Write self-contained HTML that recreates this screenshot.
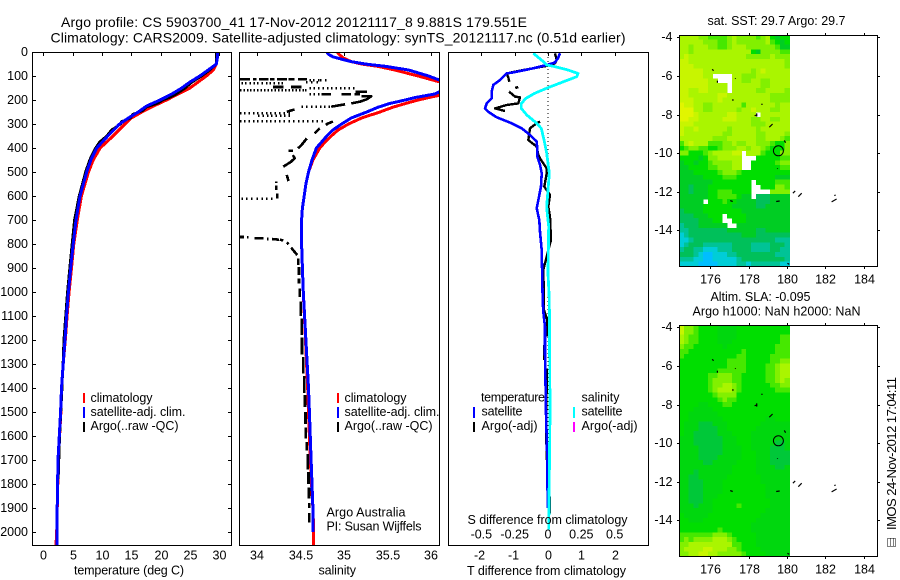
<!DOCTYPE html>
<html>
<head>
<meta charset="utf-8">
<title>Argo profile</title>
<style>
html,body{margin:0;padding:0;background:#fff;}
svg{display:block;font-family:"Liberation Sans",sans-serif;font-size:12px;fill:#000;}
.frame{fill:none;stroke:#000;stroke-width:1;shape-rendering:crispEdges;}
.ln{fill:none;shape-rendering:crispEdges;stroke-linejoin:round;}
</style>
</head>
<body>
<svg id="fig" xmlns="http://www.w3.org/2000/svg" width="900" height="580" viewBox="0 0 900 580">
<defs>
<clipPath id="clip-t"><rect x="32.5" y="52.5" width="199" height="493"/></clipPath>
<clipPath id="clip-s"><rect x="239.5" y="52.5" width="200" height="493"/></clipPath>
<clipPath id="clip-d"><rect x="448.5" y="52.5" width="200" height="493"/></clipPath>
</defs>
<rect x="0" y="0" width="900" height="580" fill="#fff"/>
<text x="61" y="27" font-size="14" textLength="466">Argo profile: CS 5903700_41 17-Nov-2012 20121117_8 9.881S 179.551E</text>
<text x="50.5" y="42.5" font-size="14" textLength="575">Climatology: CARS2009. Satellite-adjusted climatology: synTS_20121117.nc (0.51d earlier)</text>

<g id="maps"></g>
<g id="profiles"></g>

<rect class="frame" x="32.5" y="52.5" width="199" height="493"/>
<rect class="frame" x="239.5" y="52.5" width="200" height="493"/>
<rect class="frame" x="448.5" y="52.5" width="200" height="493"/>
<rect class="frame" x="679.5" y="35.5" width="198" height="231"/>
<rect class="frame" x="679.5" y="325.5" width="198" height="231"/>

<g id="ticks"></g>

<text x="74" y="574.5" font-size="12.5" textLength="110">temperature (deg C)</text>
<text x="318.5" y="574.5" font-size="12.5" textLength="37.5">salinity</text>
<text x="467" y="575" font-size="12.5" textLength="159">T difference from climatology</text>
<text x="467.5" y="524" font-size="12.5" textLength="160">S difference from climatology</text>

<g font-size="12.5">
<rect x="83" y="393" width="2" height="10" fill="#f00"/>
<rect x="83" y="407" width="2" height="11" fill="#00f"/>
<rect x="83" y="422" width="2" height="10" fill="#000"/>
<text x="90.5" y="402" textLength="62">climatology</text>
<text x="90.5" y="416" textLength="95">satellite-adj. clim.</text>
<text x="90.5" y="430" textLength="88">Argo(..raw -QC)</text>
</g>
<g font-size="12.5">
<rect x="337" y="393" width="2" height="10" fill="#f00"/>
<rect x="337" y="407" width="2" height="11" fill="#00f"/>
<rect x="337" y="422" width="2" height="10" fill="#000"/>
<text x="344.5" y="402" textLength="62">climatology</text>
<text x="344.5" y="416" textLength="95">satellite-adj. clim.</text>
<text x="344.5" y="430" textLength="88">Argo(..raw -QC)</text>
<text x="326.5" y="516.5" textLength="79">Argo Australia</text>
<text x="326.5" y="530.5" textLength="95">PI: Susan Wijffels</text>
</g>
<g font-size="12.5">
<text x="481" y="401.5" textLength="64">temperature</text>
<rect x="473" y="407" width="2" height="11" fill="#00f"/>
<text x="481.5" y="415.5" textLength="41">satellite</text>
<rect x="473" y="422" width="2" height="10" fill="#000"/>
<text x="481.5" y="430" textLength="56">Argo(-adj)</text>
<text x="581.5" y="401.5" textLength="38">salinity</text>
<rect x="573" y="407" width="2" height="11" fill="#0ff"/>
<text x="581.5" y="415.5" textLength="41">satellite</text>
<rect x="573" y="422" width="2" height="10" fill="#f0f"/>
<text x="581.5" y="430" textLength="56">Argo(-adj)</text>
</g>

<text x="707.5" y="25" font-size="12.5" textLength="138">sat. SST: 29.7  Argo: 29.7</text>
<text x="710.5" y="301" font-size="12.5" textLength="100">Altim. SLA: -0.095</text>
<text x="692.5" y="315.5" font-size="12.5" textLength="168">Argo h1000: NaN h2000: NaN</text>

<text transform="translate(896,530) rotate(-90)" font-size="13" textLength="153">IMOS 24-Nov-2012 17:04:11</text>
<g fill="none" stroke="#000" stroke-width="1" stroke-dasharray="1 1" shape-rendering="crispEdges">
<rect x="887.5" y="538.5" width="8" height="8"/>
<line x1="890.5" y1="538.5" x2="890.5" y2="546.5"/>
<line x1="893.5" y1="538.5" x2="893.5" y2="546.5"/>
</g>
</svg>

<script>
/* ---------- profile data ---------- */
const climDepth = [0,25,50,75,100,125,150,175,200,225,250,275,300,350,400,450,500,600,700,800,900,1000,1100,1200,1300,1400,1500,1700,2000,2054];
const climTemp  = [29.55,29.55,29.5,29.0,27.8,26.4,25.0,23.0,21.0,18.8,16.8,15.0,13.9,11.9,9.7,8.5,7.7,6.5,5.8,5.2,4.8,4.4,4.05,3.75,3.4,3.1,3.0,2.56,2.28,2.16];
const satTemp   = [29.7,29.65,29.5,28.1,26.7,25.0,23.6,21.9,19.9,17.6,16.2,14.5,13.0,11.0,9.1,8.1,7.4,6.25,5.57,5.1,4.67,4.27,3.95,3.7,3.4,3.1,2.95,2.5,2.3,2.3];

const argoTDepth = [5,50,75,100,125,150,175,190,200,215,230,245,260,275,290,300,325,350,375,400,450,500,600,700,800,900,1000,1200,1400,1600,1780];
const argoTemp   = [29.5,29.5,28.4,27.0,25.4,24.2,22.7,21.5,20.4,19.4,17.5,16.9,15.2,14.9,13.3,13.2,11.6,10.8,9.6,8.9,7.9,7.2,6.1,5.3,4.9,4.5,4.1,3.5,3.2,2.8,2.55];

const climSalDepth = [0,10,25,40,50,60,75,100,115,130,150,180,190,200,215,230,250,275,300,325,350,375,400,450,500,550,600,650,700,800,900,1000,1400,1500,1700,1900,2000,2054];
const climSal      = [34.92,34.94,34.99,35.08,35.2,35.39,35.58,35.85,36.0,36.15,36.3,36.1,35.97,35.85,35.7,35.56,35.41,35.2,35.05,34.93,34.85,34.78,34.72,34.64,34.59,34.56,34.54,34.52,34.51,34.51,34.52,34.53,34.58,34.59,34.61,34.64,34.65,34.65];
const satSalDepth  = [0,10,20,30,40,50,60,75,100,115,125,150,165,175,190,200,215,230,250,275,300,325,350,375,400,450,500,550,600,650,700,800,900,1000,1400,1500,1700,1900,2000];
const satSal       = [34.8,34.82,34.87,34.97,35.08,35.24,35.48,35.74,35.97,36.08,36.15,36.2,36.1,36.04,35.81,35.7,35.52,35.39,35.26,35.08,34.97,34.87,34.8,34.74,34.68,34.63,34.59,34.56,34.54,34.52,34.51,34.51,34.52,34.53,34.59,34.6,34.62,34.64,34.64];

/* connected Argo salinity runs; null = break in the line */
const argoSalDepth = [114,114,null,114,114,null,114,114,null,114,114,null,114,114,null,114,114,null,114,114,null,
 146,146,null,146,146,null,165,165,null,176,176,null,176,176,null,176,176,null,185,185,197,207,214,null,218,224,228,null,239,249,null,
 290,300,306,null,318,339,null,360,387,401,null,412,412,null,429,443,457,478,null,512,538,null,540,545,null,557,575,null,589,610,null,
 771,771,null,772,772,null,776,776,null,779,779,null,779,782,null,782,785,null,793,801,null,815,846,null,860,888,null,895,929,null,943,964,null,
 985,1020,null,1040,1100,null,1110,1180,null,1190,1260,null,1270,1340,null,1350,1420,null,1430,1480,null,1500,1550,null,1565,1610,null,1625,1660,null,1675,1740,null,1750,1800,null,1815,1860,null,1880,1900,null,1920,1960];
const argoSalValue = [33.8,33.92,null,33.95,33.99,null,34.02,34.13,null,34.15,34.2,null,34.23,34.34,null,34.36,34.43,null,34.47,34.57,null,
 34.18,34.3,null,34.39,34.51,null,35.13,35.26,null,34.74,34.85,null,34.97,35.08,null,35.12,35.18,null,35.2,35.31,35.26,35.18,35.08,null,35.01,34.91,34.85,null,34.43,34.34,null,
 34.87,34.8,34.81,null,34.72,34.66,null,34.57,34.51,34.47,null,34.36,34.41,null,34.41,34.43,34.39,34.3,null,34.34,34.36,null,34.22,34.22,null,34.22,34.22,null,34.23,34.23,null,
 33.8,33.85,null,33.885,33.9,null,33.97,34.07,null,34.11,34.13,null,34.17,34.25,null,34.26,34.3,null,34.34,34.36,null,34.39,34.46,null,34.47,34.47,null,34.48,34.48,null,34.48,34.48,null,
 34.49,34.49,null,34.5,34.5,null,34.51,34.51,null,34.515,34.515,null,34.53,34.53,null,34.54,34.54,null,34.55,34.55,null,34.555,34.555,null,34.56,34.56,null,34.57,34.57,null,34.58,34.58,null,34.59,34.59,null,34.595,34.595,null,34.6,34.6,null,34.6,34.6];

/* isolated Argo salinity samples grouped by depth */
const argoDotDepth = [117,130,126,149,158,175,228,255,265,287,288,610];
const argoDotSal = [
 [34.6,34.64,34.7,34.72,34.78],
 [33.82,33.86,33.91,33.96,34.0,34.05,34.1,34.14,34.19,34.24,34.28],
 [34.56,34.62,34.68],
 [34.6,34.65,34.7,34.75,34.8,34.85,34.9,34.95,35.0,35.05,35.1],
 [33.8,33.84,33.88,33.92,33.96,34.0,34.04,34.08,34.12,34.16,34.2,34.24,34.28,34.32,34.36,34.4,34.44,34.48,34.52,34.55],
 [34.6,34.65,34.7],
 [34.51,34.56,34.62,34.67,34.72,34.77,34.82],
 [33.8,33.85,33.9,33.95,34.0,34.05,34.1,34.15,34.2,34.25,34.3,34.36],
 [34.01,34.06,34.11,34.16,34.21,34.26,34.31,34.36],
 [33.8,33.85,33.9,33.95,34.0,34.05,34.1,34.15,34.2,34.25,34.3,34.36],
 [34.41,34.47,34.52,34.57,34.63,34.68,34.74],
 [33.82,33.87,33.93,33.99,34.05,34.1,34.16]
];

const diffTDepth = [5,26,44,54,68,85,89,117,137,165,193,214,235,249,272,297,318,346,373,408,436,470,505,561,603,651,700,749,825,1033,1082,1144,1250,1505,1700,1900];
const satDiffT   = [0.36,0.3,0.2,-0.04,-0.44,-1.04,-1.24,-1.44,-1.64,-1.69,-1.69,-1.84,-1.89,-1.79,-1.54,-1.09,-0.79,-0.54,-0.34,-0.32,-0.32,-0.24,-0.19,-0.21,-0.27,-0.34,-0.26,-0.24,-0.19,-0.16,-0.14,-0.09,-0.09,-0.06,-0.02,-0.01];

const diffSDepth = [5,19,40,54,61,75,89,103,124,151,172,193,214,235,262,290,318,366,422,505,575,644,672,727,922,1033,1500,1990];
const satDiffS   = [-0.11,-0.08,-0.035,-0.01,0.05,0.15,0.225,0.215,0.115,-0.01,-0.1,-0.165,-0.2,-0.2,-0.16,-0.1,-0.05,-0.03,-0.01,0.01,0,-0.01,-0.005,0.005,0,0.01,0.015,0.005];

const argoDiffDepth = [6,33,47,58,75,89,106,124,null,150,146,null,165,186,189,214,221,235,246,null,290,297,318,367,394,429,443,485,506,561,596,644,686,783,853,908,1033,1075,1117,1186,null,1221,1283,null,1318,1401,1519,1700,null,1852,1922];
const argoDiffT     = [0.21,0.26,0.21,-0.04,-0.74,-1.24,-1.19,-1.16,null,-0.98,-0.89,null,-1.17,-0.99,-0.84,-0.89,-1.24,-1.59,-1.29,null,-0.24,-0.34,-0.54,-0.59,-0.34,-0.29,-0.24,-0.04,-0.04,-0.11,0.06,0.01,0.06,0.09,-0.04,-0.14,-0.12,-0.12,-0.02,-0.02,null,-0.12,-0.12,null,-0.04,-0.04,-0.06,-0.04,null,0.06,0.06];

/* ---------- tick data ---------- */
const depthTicks = [0,100,200,300,400,500,600,700,800,900,1000,1100,1200,1300,1400,1500,1600,1700,1800,1900,2000];
const tempTicks  = [0,5,10,15,20,25,30];
const salTicks   = [34,34.5,35,35.5,36];
const tDiffTicks = [-2,-1,0,1,2];
const sDiffTicks = [-0.5,-0.25,0,0.25,0.5];
const lonTicks   = [176,178,180,182,184];
const latTicks   = [-4,-6,-8,-10,-12,-14];

/* ---------- map data: colour-scale levels, _ = no data ---------- */
const _ = null;
const mapLonStart = 174.5, mapLatStart = -4, mapStep = 0.25;
const sstLevels = [
[8,8,8,8,7,7,6,6,6,6,7,8,7,7,7,7,6,7,8,5,4,5,5],
[8,8,8,8,8,7,7,7,6,6,7,8,7,7,7,7,7,7,8,6,5,4,5],
[8,8,7,8,8,8,7,7,6,6,7,8,8,8,7,7,7,7,7,7,6,4,4],
[8,8,7,8,8,8,8,8,8,8,8,8,8,8,8,5,4,7,7,7,7,6,6],
[8,9,8,8,8,8,8,8,8,8,8,8,8,8,7,7,7,7,7,8,7,7,7],
[9,9,8,8,8,8,8,8,8,8,8,8,8,8,8,8,8,8,8,8,8,8,7],
[9,9,9,8,8,8,8,8,8,8,8,8,8,8,8,8,8,8,8,8,8,8,7],
[9,9,9,9,9,8,8,8,8,8,8,8,8,8,8,7,8,9,8,8,8,8,8],
[9,9,9,9,9,8,8,_,_,_,_,8,8,7,7,7,8,8,8,8,8,8,8],
[9,9,9,9,9,9,8,8,_,_,_,8,8,7,7,8,8,7,7,8,8,8,8],
[9,9,9,9,9,9,8,8,8,8,_,8,8,8,8,8,8,7,7,8,8,8,8],
[9,9,8,8,9,9,8,8,8,8,_,8,8,8,8,8,7,7,8,8,8,8,7],
[9,9,8,8,8,8,8,8,9,9,8,8,8,8,8,8,8,8,8,7,7,7,7],
[9,9,9,8,8,8,8,8,9,8,8,8,8,8,8,8,8,8,8,7,7,7,7],
[10,9,9,8,8,7,7,8,8,8,8,8,8,6,8,8,8,8,8,8,7,8,8],
[10,10,10,8,8,7,7,8,8,8,8,8,7,8,8,9,8,8,8,7,7,8,8],
[10,10,10,9,8,8,8,8,8,8,9,9,8,8,8,8,_,8,8,8,8,8,8],
[10,10,9,9,8,8,8,8,8,9,9,9,8,8,8,7,7,8,8,7,7,8,8],
[9,9,9,8,8,8,8,8,8,8,8,8,8,8,8,7,7,7,8,8,8,8,8],
[9,8,8,9,8,8,8,8,8,8,7,8,8,8,8,8,7,8,8,8,8,8,8],
[9,8,8,8,8,8,8,8,8,7,7,8,8,8,8,8,7,7,8,8,8,8,7],
[8,8,8,8,8,8,8,7,7,7,8,8,8,8,8,8,7,7,8,8,8,7,6],
[6,8,9,8,8,8,6,6,6,7,7,8,7,7,8,8,7,7,7,6,5,5,7],
[5,6,7,7,6,6,5,5,6,7,7,7,8,8,7,8,8,7,6,5,5,5,7],
[7,7,5,5,5,6,7,8,8,8,8,9,9,_,8,8,8,6,5,5,5,7,7],
[5,5,5,5,4,5,7,7,8,8,8,8,8,_,_,_,5,5,5,5,5,6,6],
[4,5,5,4,5,5,6,7,7,7,7,8,8,_,_,5,5,5,5,5,6,7,7],
[4,4,5,5,5,5,6,6,7,7,7,8,8,_,_,5,5,5,5,5,5,6,6],
[4,4,4,5,5,5,5,5,6,7,7,7,6,5,5,5,5,5,5,5,5,5,5],
[4,4,4,4,4,5,5,5,5,6,6,6,5,5,5,5,5,5,5,5,4,4,4],
[4,4,4,4,4,4,4,5,5,5,5,5,5,5,5,_,5,5,5,5,6,6,6],
[4,4,3,4,4,4,5,5,5,5,5,5,5,5,5,_,_,5,5,5,7,7,6],
[4,4,3,4,4,4,5,5,6,6,6,5,5,5,5,_,_,_,_,7,7,7,7],
[4,4,4,4,4,4,5,5,6,6,6,6,5,4,4,_,3,3,3,4,4,4,4],
[4,4,4,4,4,_,5,5,5,6,5,5,4,4,4,4,3,3,3,4,4,4,4],
[4,4,4,4,4,5,5,5,5,5,5,4,4,4,4,4,3,3,4,4,4,4,4],
[3,4,4,4,4,5,5,5,5,5,5,5,5,4,4,4,4,4,4,4,4,4,4],
[3,3,3,4,4,4,5,5,5,_,5,5,5,5,4,4,4,4,4,4,4,4,4],
[3,3,3,3,4,4,4,5,5,_,_,5,5,5,4,4,4,4,4,4,4,4,4],
[2,3,3,3,4,4,4,4,4,4,_,_,4,4,4,4,4,4,4,4,4,4,4],
[2,2,3,3,3,3,3,3,3,3,4,4,4,4,4,4,3,3,4,4,4,4,4],
[1,2,3,3,3,3,3,3,3,3,3,3,3,4,4,4,3,3,3,3,3,3,3],
[1,1,2,3,3,3,3,3,3,3,3,3,3,3,3,3,3,3,3,3,2,2,2],
[1,2,3,3,3,2,2,2,2,2,2,3,3,3,3,2,2,2,2,3,3,3,2],
[2,3,3,2,2,1,1,1,2,2,2,3,3,3,3,2,2,2,2,3,3,2,2],
[3,3,3,2,1,0,0,1,1,1,2,2,3,3,3,3,3,3,3,3,2,2,2],
[2,2,2,1,1,0,0,1,1,1,1,1,2,3,3,3,3,3,3,3,3,3,2],
[1,1,1,1,0,0,0,0,1,1,1,1,2,2,1,2,2,2,2,2,2,1,1]
];
const slaLevels = [
[9,7,7,6,5,5,5,5,4,4,4,4,5,5,5,5,5,5,5,5,5,5,5],
[9,7,7,6,5,5,5,5,4,4,4,4,5,5,5,5,5,5,5,5,5,5,5],
[8,7,6,6,5,5,5,5,4,4,4,4,5,5,5,5,5,5,5,5,5,6,6],
[8,7,6,6,5,5,5,5,4,4,4,5,5,5,5,5,5,5,5,5,5,6,6],
[7,6,6,5,5,5,5,5,5,4,5,5,5,5,5,5,5,5,5,5,6,6,6],
[6,6,5,5,5,5,5,5,5,5,5,5,5,6,5,5,5,5,5,5,6,6,6],
[6,5,5,5,5,5,5,5,5,5,5,5,6,6,5,5,5,5,5,6,6,6,6],
[5,5,5,5,5,5,5,5,5,5,6,6,6,6,5,5,5,5,5,6,6,7,7],
[5,5,5,5,5,5,5,5,5,5,6,6,6,6,5,5,5,5,6,6,7,8,8],
[5,5,5,5,5,5,5,5,6,6,6,6,6,6,5,5,5,5,6,6,7,8,8],
[5,5,5,5,5,5,6,6,7,7,7,6,6,5,5,5,5,5,6,6,7,8,8],
[5,5,5,5,5,5,6,7,7,7,7,6,6,5,5,5,5,5,6,6,7,8,7],
[5,5,5,5,5,5,6,7,7,8,8,7,6,5,5,5,5,5,5,6,6,7,7],
[5,5,5,5,5,5,6,7,8,8,8,7,6,5,5,5,5,5,5,5,6,6,6],
[5,5,5,5,5,5,5,6,7,7,7,7,5,5,5,5,5,5,5,5,5,5,5],
[5,5,5,5,5,5,5,5,6,7,6,6,5,5,5,5,5,5,5,5,5,5,5],
[5,5,5,5,4,4,5,5,5,6,6,5,5,5,5,5,5,5,5,5,5,5,5],
[5,5,5,4,4,4,4,5,5,5,5,5,5,5,5,5,5,5,5,5,5,5,5],
[5,5,4,4,4,4,4,4,5,5,5,5,5,5,5,5,5,5,5,5,5,5,5],
[5,5,4,4,4,4,4,4,4,5,5,5,5,5,5,5,5,5,4,4,5,5,5],
[5,4,4,4,3,3,3,4,4,4,5,5,5,5,5,5,5,4,4,4,4,4,4],
[5,4,4,4,3,3,3,3,4,4,5,5,5,5,5,5,4,4,4,4,4,4,4],
[5,4,4,3,3,3,3,3,4,4,4,5,5,5,5,4,4,4,4,4,4,4,4],
[4,4,4,3,3,3,3,3,3,4,4,4,5,5,5,4,4,4,4,4,4,4,4],
[4,4,4,3,3,3,3,3,3,4,4,4,5,5,5,4,4,4,4,4,3,3,4],
[4,4,4,4,3,3,3,3,3,4,4,4,4,5,5,4,4,4,4,3,3,3,4],
[4,4,4,4,3,3,3,3,3,4,4,4,4,5,5,5,4,4,4,3,3,3,3],
[4,4,4,4,3,3,3,3,4,4,4,4,4,5,5,5,4,4,4,3,3,3,3],
[4,4,4,4,4,3,3,4,4,4,4,4,5,5,5,5,4,4,4,3,3,3,3],
[4,4,4,4,4,4,4,4,4,4,4,5,5,5,5,5,4,4,4,4,3,3,4],
[4,4,4,3,4,4,4,4,4,4,4,5,5,5,5,5,4,4,4,4,4,4,4],
[4,4,3,3,4,4,4,4,4,4,5,5,5,5,5,5,5,4,4,4,4,4,4],
[4,4,3,3,3,4,4,4,4,5,5,5,5,5,5,5,5,4,4,4,4,4,4],
[4,4,3,3,3,4,4,4,4,5,5,5,5,5,5,5,5,5,4,4,4,4,4],
[4,4,3,3,3,4,4,4,4,5,5,5,5,5,5,5,5,5,4,4,4,4,4],
[4,4,3,3,3,4,4,4,5,5,5,5,5,5,5,5,5,5,4,4,4,4,4],
[4,4,3,3,3,4,4,5,5,5,5,5,5,5,5,5,5,5,5,4,4,4,4],
[4,4,4,3,4,4,4,5,5,5,5,5,6,5,5,5,5,5,5,4,4,4,4],
[4,4,4,4,4,4,4,5,5,5,5,5,5,5,5,5,5,5,4,4,4,4,4],
[5,4,4,4,4,4,5,5,5,5,5,5,5,5,5,5,5,4,4,4,4,4,4],
[5,5,4,4,4,5,5,5,5,5,5,5,5,5,5,5,4,4,4,4,4,4,4],
[5,5,5,5,5,5,5,5,5,5,5,5,5,5,5,4,4,4,4,4,4,4,4],
[5,5,5,5,5,5,5,5,6,5,5,5,5,5,5,4,4,4,4,4,4,4,4],
[6,6,6,6,6,6,6,7,7,7,6,5,5,5,5,5,4,4,4,4,4,4,4],
[6,7,6,7,7,7,7,8,8,8,7,6,5,5,5,5,4,4,4,4,4,4,4],
[7,7,8,8,8,8,8,8,8,8,8,6,6,5,5,5,4,4,4,4,4,4,4],
[7,8,8,8,8,9,9,8,8,8,7,7,6,5,5,5,5,4,4,4,4,4,4],
[7,7,8,8,9,9,8,8,7,7,7,7,7,6,5,5,5,5,4,4,4,4,4]
];
const islandLon = [[176.10,176.17],[176.37,176.37],[177.30,177.32],[177.13,177.22],[178.66,178.73],[178.31,178.45],[178.42,178.42],[179.08,179.25],[179.86,179.93],[179.50,179.51],[177.04,177.17],[179.44,179.62],[180.31,180.43],[180.59,180.77],[182.33,182.59],[182.47,182.54],[180.02,180.12]];
const islandLat = [[-5.66,-5.73],[-6.25,-6.35],[-6.12,-6.15],[-7.25,-7.25],[-7.47,-7.47],[-8.06,-8.02],[-7.94,-8.11],[-8.66,-8.49],[-9.34,-9.46],[-10.79,-10.82],[-12.46,-12.51],[-12.51,-12.48],[-12.08,-11.96],[-12.26,-12.08],[-12.53,-12.38],[-12.20,-12.17],[-15.71,-15.76]];
const profileLon = 179.551, profileLat = -9.881;

/* ---------- scales ---------- */
const depthY = d => 52 + d * 0.24;
const tempX  = t => 43.3 + t * 5.867;
const salX   = s => 257.2 + (s - 34) * 87;
const tDiffX = t => 548 + t * 33.33;
const sDiffX = s => 548 + s * 133.3;
const lonX   = l => 710.3 + (l - 176) * 19.17;
const latY   = (l, top) => top + (-4 - l) * 19.3;
const levelColors = [[0,190,255],[0,205,215],[0,195,150],[0,192,90],[0,205,35],[0,222,0],[70,232,0],[130,240,0],[170,245,0],[200,245,0],[225,245,0]];
const levelColor = v => {
  const t = Math.max(0, Math.min(10, v));
  const a = Math.floor(t), b = Math.min(10, a + 1), f = t - a;
  const c = levelColors[a].map((n, i) => Math.round(n + (levelColors[b][i] - n) * f));
  return 'rgb(' + c[0] + ',' + c[1] + ',' + c[2] + ')';
};
const sstColor = v => levelColor(v);
const slaColor = v => levelColor(v < 5 ? v + 0.6 : v);

const NS = 'http://www.w3.org/2000/svg';
function mk(tag, attrs, parent) {
  const el = document.createElementNS(NS, tag);
  for (const k in attrs) el.setAttribute(k, attrs[k]);
  parent.appendChild(el);
  return el;
}
function pathFrom(depths, vals, xf) {
  let d = '', pen = false;
  depths.forEach((dp, i) => {
    if (dp === null || vals[i] === null) { pen = false; return; }
    d += (pen ? 'L' : 'M') + xf(vals[i]).toFixed(1) + ' ' + depthY(dp).toFixed(1);
    pen = true;
  });
  return d;
}

/* ---------- profile series ---------- */
const prof = document.getElementById('profiles');
function series(name, depths, vals, xf, color, width, clip) {
  const el = mk('path', { class: 'ln', d: pathFrom(depths, vals, xf), stroke: color, 'stroke-width': width, 'clip-path': 'url(#' + clip + ')' }, prof);
  
  
}
series('temperature-climatology-line', climDepth, climTemp, tempX, '#f00', 3, 'clip-t');
series('temperature-argo-line', argoTDepth, argoTemp, tempX, '#000', 2.6, 'clip-t');
series('temperature-satellite-line', climDepth, satTemp, tempX, '#00f', 3, 'clip-t');

series('salinity-climatology-line', climSalDepth, climSal, salX, '#f00', 3, 'clip-s');
series('salinity-argo-line', argoSalDepth, argoSalValue, salX, '#000', 2.6, 'clip-s');
argoDotDepth.forEach((dp, i) => {
  argoDotSal[i].forEach(s => {
    const r = mk('rect', { x: salX(s).toFixed(1), y: (depthY(dp) - 1).toFixed(1), width: 1.5, height: 2.5, fill: '#000', 'shape-rendering': 'crispEdges', 'clip-path': 'url(#clip-s)' }, prof);
    
    
  });
});
series('salinity-satellite-line', satSalDepth, satSal, salX, '#00f', 3, 'clip-s');

const zero = mk('line', { x1: tDiffX(0), x2: tDiffX(0), y1: 53, y2: 500, stroke: '#000', 'stroke-width': 1, 'stroke-dasharray': '1 3', 'shape-rendering': 'crispEdges' }, prof);


series('t-difference-argo-line', argoDiffDepth, argoDiffT, tDiffX, '#000', 2.4, 'clip-d');
series('t-difference-satellite-line', diffTDepth, satDiffT, tDiffX, '#00f', 2.6, 'clip-d');
series('s-difference-satellite-line', diffSDepth, satDiffS, sDiffX, '#0ff', 2.8, 'clip-d');

/* ---------- maps ---------- */
const maps = document.getElementById('maps');
function heatmap(name, rows, top, colorFn) {
  const half = mapStep / 2;
  rows.forEach((row, r) => {
    row.forEach((v, c) => {
      if (v === null) return;
      const lon = mapLonStart + c * mapStep, lat = mapLatStart - r * mapStep;
      const x1 = lonX(lon - half), x2 = lonX(lon + half), y1 = latY(lat + half, top), y2 = latY(lat - half, top);
      const cell = mk('rect', { x: x1.toFixed(2), y: y1.toFixed(2), width: (x2 - x1 + 0.4).toFixed(2), height: (y2 - y1 + 0.4).toFixed(2), fill: colorFn(v), 'shape-rendering': 'crispEdges' }, maps);
      
      
    });
  });
  islandLon.forEach((lons, i) => {
    const isl = mk('line', { x1: lonX(lons[0]).toFixed(1), y1: latY(islandLat[i][0], top).toFixed(1), x2: lonX(lons[1]).toFixed(1), y2: latY(islandLat[i][1], top).toFixed(1), stroke: '#000', 'stroke-width': 1.2 }, maps);
    
    
  });
  const m = mk('circle', { cx: lonX(profileLon).toFixed(1), cy: latY(profileLat, top).toFixed(1), r: 5, fill: 'none', stroke: '#000', 'stroke-width': 1 }, maps);
  
  
}
heatmap('sst-cell', sstLevels, 37.3, sstColor);
heatmap('sla-cell', slaLevels, 327.3, slaColor);

/* ---------- ticks and labels ---------- */
const tk = document.getElementById('ticks');
function tick(x1, y1, x2, y2) {
  const l = mk('line', { x1: x1, y1: y1, x2: x2, y2: y2, stroke: '#000', 'stroke-width': 1, 'shape-rendering': 'crispEdges' }, tk);
  
  
}
function label(str, x, y, anchor) {
  const t = mk('text', { x: x, y: y, 'text-anchor': anchor, 'font-size': 12.5 }, tk);
  t.textContent = str;
  
  
}
depthTicks.forEach(d => {
  const y = Math.round(depthY(d)) + 0.5;
  tick(32.5, y, 36, y);
  tick(228, y, 231.5, y);
  label(String(d), 28, y + 3.5, 'end');
});
tempTicks.forEach(t => {
  const x = Math.round(tempX(t)) + 0.5;
  tick(x, 52.5, x, 56);
  label(String(t), x, 559.5, 'middle');
});
salTicks.forEach(s => {
  const x = Math.round(salX(s)) + 0.5;
  tick(x, 52.5, x, 56);
  label(String(s), x - 0.5, 559.5, 'middle');
});
tDiffTicks.forEach(t => {
  const x = Math.round(tDiffX(t)) + 0.5;
  tick(x, 52.5, x, 56);
  label(String(t), x - (t < 0 ? 2 : 0), 559.5, 'middle');
});
sDiffTicks.forEach(s => {
  label(String(s), sDiffX(s), 538.5, 'middle');
});
[[35.5, 266.5, 283.5], [325.5, 556.5, 573.5]].forEach(m => {
  lonTicks.forEach(l => {
    const x = Math.round(lonX(l)) + 0.5;
    tick(x, m[0] - 2.5, x, m[0]);
    tick(x, m[1], x, m[1] + 2.5);
    label(String(l), x, m[2], 'middle');
  });
  latTicks.forEach(l => {
    const y = Math.round(latY(l, m[0] < 100 ? 37.3 : 327.3)) + 0.5;
    tick(677, y, 679.5, y);
    tick(877.5, y, 880, y);
    label(String(l), 672.5, y + 3.5, 'end');
  });
});
</script>
</body>
</html>
